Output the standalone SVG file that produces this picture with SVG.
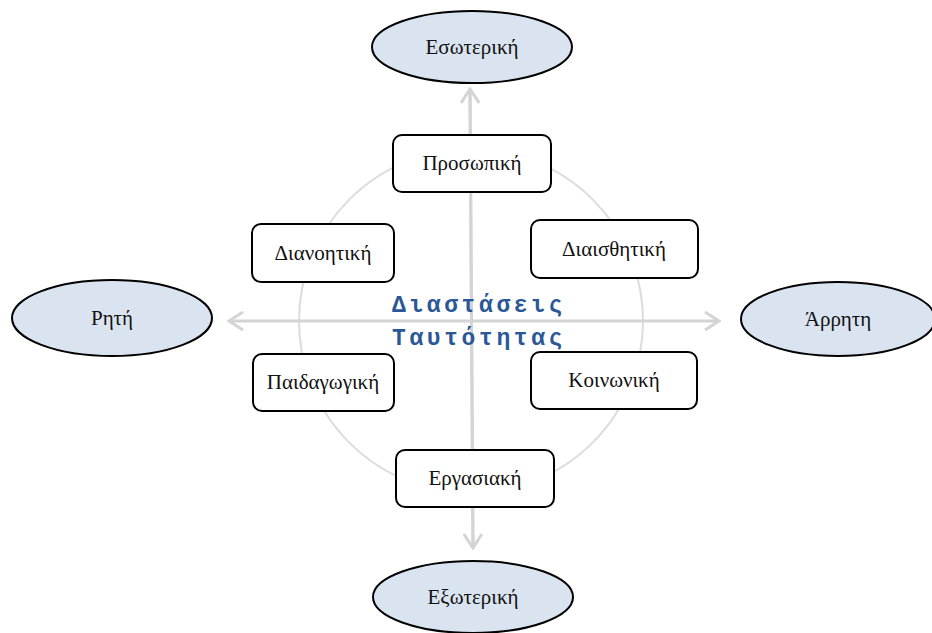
<svg xmlns="http://www.w3.org/2000/svg" width="932" height="633" viewBox="0 0 932 633">
  <style>
    .ell { fill: #DAE3F0; stroke: #000; stroke-width: 2; }
    .box { fill: #fff; stroke: #000; stroke-width: 2; }
    .lbl { font-family: "Liberation Serif", "Times New Roman", serif; font-size: 21px; fill: #111; text-anchor: middle; dominant-baseline: central; }
    .axis { stroke: #D4D4D4; stroke-width: 3; fill: none; }
    .ring { stroke: #DCDCDC; stroke-width: 2; fill: none; }
    .title { font-family: "Liberation Mono", "Courier New", monospace; font-weight: bold; font-size: 23px; fill: #2B5797; letter-spacing: 3.6px; }
  </style>
  <defs>
    <marker id="chev" viewBox="0 0 20 20" refX="18" refY="10" markerWidth="20" markerHeight="20" markerUnits="userSpaceOnUse" orient="auto">
      <path d="M4 1 L18 10 L4 19" fill="none" stroke="#D4D4D4" stroke-width="3"/>
    </marker>
  </defs>

  <rect width="932" height="633" fill="#fff"/>

  <!-- background ring and axes -->
  <g id="connectors">
    <circle class="ring" cx="471" cy="321" r="172"/>
    <line class="axis" x1="473" y1="548" x2="470" y2="89" marker-end="url(#chev)"/>
    <line class="axis" x1="470" y1="89" x2="473" y2="548" marker-end="url(#chev)"/>
    <line class="axis" x1="474" y1="321" x2="229" y2="321" marker-end="url(#chev)"/>
    <line class="axis" x1="474" y1="321" x2="719" y2="321" marker-end="url(#chev)"/>
  </g>

  <g id="title">
    <text class="title" x="392" y="312">Διαστάσεις</text>
    <text class="title" x="392" y="345">Ταυτότητας</text>
  </g>

  <g id="esoteriki">
    <ellipse class="ell" cx="472" cy="47" rx="100" ry="36"/>
    <text class="lbl" x="472" y="47">Εσωτερική</text>
  </g>
  <g id="exoteriki">
    <ellipse class="ell" cx="473" cy="597" rx="100" ry="36"/>
    <text class="lbl" x="473" y="597">Εξωτερική</text>
  </g>
  <g id="riti">
    <ellipse class="ell" cx="112" cy="318" rx="100" ry="38"/>
    <text class="lbl" x="112" y="318">Ρητή</text>
  </g>
  <g id="arriti">
    <ellipse class="ell" cx="838" cy="319" rx="97" ry="37"/>
    <text class="lbl" x="838" y="319">Άρρητη</text>
  </g>

  <g id="prosopiki">
    <rect class="box" x="393" y="135" width="158" height="57" rx="9"/>
    <text class="lbl" x="472" y="163">Προσωπική</text>
  </g>
  <g id="dianoitiki">
    <rect class="box" x="252" y="224" width="142" height="58" rx="9"/>
    <text class="lbl" x="323" y="253">Διανοητική</text>
  </g>
  <g id="diaisthitiki">
    <rect class="box" x="531" y="220" width="167" height="58" rx="9"/>
    <text class="lbl" x="614" y="249">Διαισθητική</text>
  </g>
  <g id="paidagogiki">
    <rect class="box" x="253" y="354" width="141" height="57" rx="9"/>
    <text class="lbl" x="323" y="382">Παιδαγωγική</text>
  </g>
  <g id="koinoniki">
    <rect class="box" x="531" y="352" width="166" height="57" rx="9"/>
    <text class="lbl" x="614" y="380">Κοινωνική</text>
  </g>
  <g id="ergasiaki">
    <rect class="box" x="396" y="450" width="158" height="57" rx="9"/>
    <text class="lbl" x="475" y="478">Εργασιακή</text>
  </g>
</svg>
